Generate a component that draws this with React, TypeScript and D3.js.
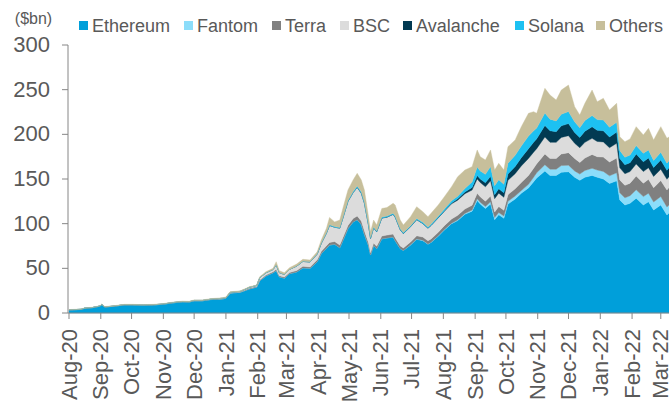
import React from 'react';
import * as d3 from 'd3';

const dates = [
  '2020-08-01','2020-08-13','2020-08-16','2020-08-24','2020-08-31','2020-09-02','2020-09-05','2020-09-13','2020-09-24','2020-10-02',
  '2020-10-12','2020-10-22','2020-10-31','2020-11-10','2020-11-20','2020-11-26','2020-12-01','2020-12-09','2020-12-17','2020-12-29',
  '2021-01-01','2021-01-05','2021-01-15','2021-01-24','2021-01-31','2021-02-03','2021-02-09','2021-02-16','2021-02-19','2021-02-22',
  '2021-02-27','2021-03-04','2021-03-11','2021-03-17','2021-03-24','2021-03-31','2021-04-04','2021-04-09','2021-04-12','2021-04-17',
  '2021-04-22','2021-04-25','2021-04-30','2021-05-05','2021-05-09','2021-05-13','2021-05-16','2021-05-20','2021-05-22','2021-05-25',
  '2021-05-28','2021-06-02','2021-06-07','2021-06-13','2021-06-15','2021-06-20','2021-06-23','2021-06-30','2021-07-06','2021-07-12',
  '2021-07-17','2021-07-20','2021-07-27','2021-08-02','2021-08-09','2021-08-15','2021-08-22','2021-08-29','2021-09-03','2021-09-06',
  '2021-09-11','2021-09-16','2021-09-20','2021-09-24','2021-09-29','2021-10-03','2021-10-10','2021-10-16','2021-10-23','2021-10-28',
  '2021-10-31','2021-11-08','2021-11-13','2021-11-19','2021-11-24','2021-12-01','2021-12-07','2021-12-12','2021-12-17','2021-12-24',
  '2021-12-29','2022-01-04','2022-01-10','2022-01-17','2022-01-20','2022-01-25','2022-01-30','2022-02-05','2022-02-12','2022-02-17',
  '2022-02-22','2022-03-01','2022-03-07','2022-03-09'
];

const ethereum = [
  3.4,4.0,5.2,6.0,7.6,9.3,6.7,7.5,9.0,9.0,
  8.6,9.0,9.7,11.3,12.5,12.2,13.6,13.6,15.0,15.8,
  16.5,22.2,23.2,27,29,36,41.5,45,47.5,40.5,
  39,44,46,50.5,50,57.5,66.5,72.5,76,77,
  73,81,94.5,102,104.5,99,88,75.5,65,75.5,
  72,83,84,85,81,72,70,76,82.5,81,
  77,79,86,93,100,103.5,110.5,114,126,122,
  117,122,104.5,110,106,122,127.5,134,140,147,
  151,159,154,154,157.5,158,152,148.5,152,154,
  152,150,145,148,126.5,120.9,122.8,128.4,120.9,124.6,
  115.3,120.9,109.7,112
];

const fantom = [
  0,0,0,0,0,0,0,0,0,0,
  0,0,0,0,0,0,0,0,0,0,
  0,0,0,0,0,0,0,0,0,0,
  0,0,0,0,0,0,0,0,0,0,
  0,0,0,0,0,0,0,0,0,0,
  0,0,0,0,0,0,0,0.3,0.3,0.3,
  0.3,0.3,0.4,0.5,0.6,0.8,1,1.3,2,2,
  2.2,2.5,2.5,2.6,2.7,3,3.5,3,4,5,
  6,7,7,7,7.5,7.5,7,7,7.5,8,
  8,8.5,8.5,9,8,8,8.5,9.5,9.4,9.5,
  9,9.5,9,9
];

const terra = [
  0.1,0.1,0.1,0.1,0.1,0.1,0.1,0.1,0.15,0.15,
  0.15,0.15,0.15,0.2,0.2,0.2,0.25,0.25,0.25,0.3,
  0.3,0.3,0.4,0.8,0.8,1,1,1.2,1.5,1.2,
  1.2,1.3,1.5,1.7,1.6,2,2.5,2.8,3,3,
  3,3.2,3.5,3.8,4,4,4,3,2.5,2.8,
  2.8,3.2,3.2,3.4,3.3,3,2.8,3.2,3.6,3.7,
  3.5,3.6,4,4.3,4.6,5,5,5.3,6,6,
  6,6.5,6,6.5,6.3,7.5,8,9,10,10,
  10,12,12,12,13,14,14,13,14,15.5,
  15,16,15.5,16.5,14.5,14,14,15.5,15,15.5,
  16,18,19,19.5
];

const bsc = [
  0.05,0.05,0.05,0.05,0.05,0.05,0.05,0.05,0.1,0.1,
  0.1,0.1,0.1,0.15,0.15,0.15,0.2,0.2,0.2,0.4,
  0.4,0.5,0.6,1,1,2.5,2.5,2.5,5,3.5,
  3,3.5,5,5.5,5.5,6.5,9,14,19,16,
  19,22,27,29,32,31,31,20,16,17,
  16,20,20,22,23,18,16,17,18,15,
  14,15,16,16,17,17,17,17,16,16,
  16,17,15,15,14.5,16,17,18.6,19,18,
  17,19,18,18,18.5,19,17,16.5,17.5,18,
  17,17,16,16.5,13.5,13,13,13.5,13,13,
  12.5,12.5,12,12
];

const avalanche = [
  0,0,0,0,0,0,0,0,0,0,
  0,0,0,0,0,0,0,0,0,0,
  0,0,0,0,0,0,0,0,0,0,
  0,0,0,0,0,0,0,0,0,0,
  0,0,0,0,0.2,0.2,0.2,0.1,0.1,0.1,
  0.1,0.2,0.2,0.2,0.2,0.2,0.2,0.2,0.3,0.3,
  0.3,0.3,0.5,0.7,1,1.5,2,3,4,4,
  4.5,5,4.5,5,5,7,8,9.3,11,11,
  11,13,13,12,13,13.5,12,11.5,12.5,13,
  12.5,12.5,12,12.5,10.5,10,10,11,11,11,
  10,10.5,10,10
];

const solana = [
  0,0,0,0,0,0,0,0,0,0,
  0,0,0,0,0,0,0,0,0,0,
  0,0,0,0,0,0,0,0,0.1,0,
  0,0,0.2,0.2,0.2,0.3,0.4,0.5,0.7,0.7,
  0.7,0.8,1,1.2,1.5,1.5,1.4,1.2,1,1,
  1,1.2,1.2,1.2,1.2,1,1,1.1,1.2,1.2,
  1.2,1.3,1.5,2,2.5,3,4,6,9.3,9,
  9.5,11,10,10,9.5,12,12.5,13,14,13,
  12,14,13,12,13,13.5,12,11,12,12.5,
  12,12,11,11,9,8.5,8.5,9.5,9.4,9,
  8,8.5,8,8
];

const others = [
  0.3,0.3,0.3,0.35,0.4,0.4,0.4,0.4,0.45,0.45,
  0.45,0.45,0.45,0.5,0.5,0.5,0.6,0.6,0.6,0.7,
  0.8,0.8,0.6,0.7,0.5,1.2,1.2,1.3,3.3,2.2,
  1.9,1.9,2.1,2.2,2,2.3,3.3,5,8.3,5.3,
  8.3,10,11.7,12.9,14.2,13.2,13.1,8,6.4,7.6,
  6.6,9.4,9.4,11,12.2,9.8,8.5,10,13.1,11.9,
  11.5,12.1,12.5,13.7,15.7,21.8,20.5,17.2,19.2,16,
  16.1,18.5,17.5,18.5,16,18.7,17.2,21.7,25.5,21.4,
  16.5,27.5,27,23.4,27.1,29.7,17,14.1,19.2,28.6,
  20,24.3,19.2,21.2,15.3,17.4,18,21.2,20.6,24.1,
  22.9,28.7,27.9,26.5
];

const seriesNames = ['Ethereum', 'Fantom', 'Terra', 'BSC', 'Avalanche', 'Solana', 'Others'];
const seriesValues = [ethereum, fantom, terra, bsc, avalanche, solana, others];
const seriesColors = ['#009FDA', '#8CDDFA', '#808080', '#DCDCDC', '#023A52', '#1DC1F2', '#C7BF9B'];
const yTicks = [0, 50, 100, 150, 200, 250, 300];
const yUnit = '($bn)';
const legendX = [92, 197, 285, 353, 416, 528, 609];

const W = 669;
const H = 402;
const FONT = '"Liberation Sans", Arial, Helvetica, sans-serif';
const TEXT = '#595959';
const AXIS = '#868686';

export default function App() {
  const parse = d3.timeParse('%Y-%m-%d');
  const rows = dates.map((d, i) => {
    const r: any = { date: parse(d) };
    seriesNames.forEach((n, k) => (r[n] = seriesValues[k][i]));
    return r;
  });

  const x = d3
    .scaleTime()
    .domain([new Date(2020, 7, 1), new Date(2022, 2, 9)])
    .range([69, 669]);
  const y = d3.scaleLinear().domain([0, 300]).range([313, 45]);

  const stack = d3.stack<any>().keys(seriesNames);
  const layers = stack(rows);
  const area = d3
    .area<any>()
    .x((d) => x(d.data.date))
    .y0((d) => y(d[0]))
    .y1((d) => y(d[1]));

  const months = d3.timeMonth.range(new Date(2020, 7, 1), new Date(2022, 2, 2));
  const fmt = d3.timeFormat('%b-%y');

  return (
    <svg
      width={W}
      height={H}
      style={{ position: 'absolute', left: 0, top: 0, background: '#fff' }}
      fontFamily={FONT}
    >
      {layers.map((layer, i) => (
        <path key={seriesNames[i]} d={area(layer) || ''} fill={seriesColors[i]} stroke={seriesColors[i]} strokeWidth={0.4} />
      ))}

      {/* y axis */}
      <line x1={68} x2={68} y1={y(300)} y2={y(0)} stroke={AXIS} strokeWidth={1} />
      {yTicks.map((t) => (
        <g key={t}>
          <line x1={62} x2={68} y1={y(t)} y2={y(t)} stroke={AXIS} strokeWidth={1} />
          <text x={50} y={y(t) + 7} textAnchor="end" fontSize={22} fill={TEXT}>
            {t}
          </text>
        </g>
      ))}
      <text x={33.5} y={24} textAnchor="middle" fontSize={16} fill={TEXT}>
        {yUnit}
      </text>

      {/* x axis */}
      <line x1={68} x2={W} y1={y(0)} y2={y(0)} stroke={AXIS} strokeWidth={1} />
      {months.map((m) => {
        const px = x(m);
        return (
          <g key={m.toISOString()}>
            <line x1={px} x2={px} y1={y(0)} y2={y(0) + 6} stroke={AXIS} strokeWidth={1} />
            <text
              transform={`translate(${px},${329}) rotate(-90)`}
              textAnchor="end"
              dy="0.35em"
              fontSize={22}
              fill={TEXT}
            >
              {fmt(m)}
            </text>
          </g>
        );
      })}

      {/* legend */}
      {seriesNames.map((n, i) => (
        <g key={n}>
          <rect x={legendX[i] - 13} y={21} width={9} height={9} fill={seriesColors[i]} />
          <text x={legendX[i]} y={31.5} fontSize={18} fill={TEXT}>
            {n}
          </text>
        </g>
      ))}
    </svg>
  );
}
